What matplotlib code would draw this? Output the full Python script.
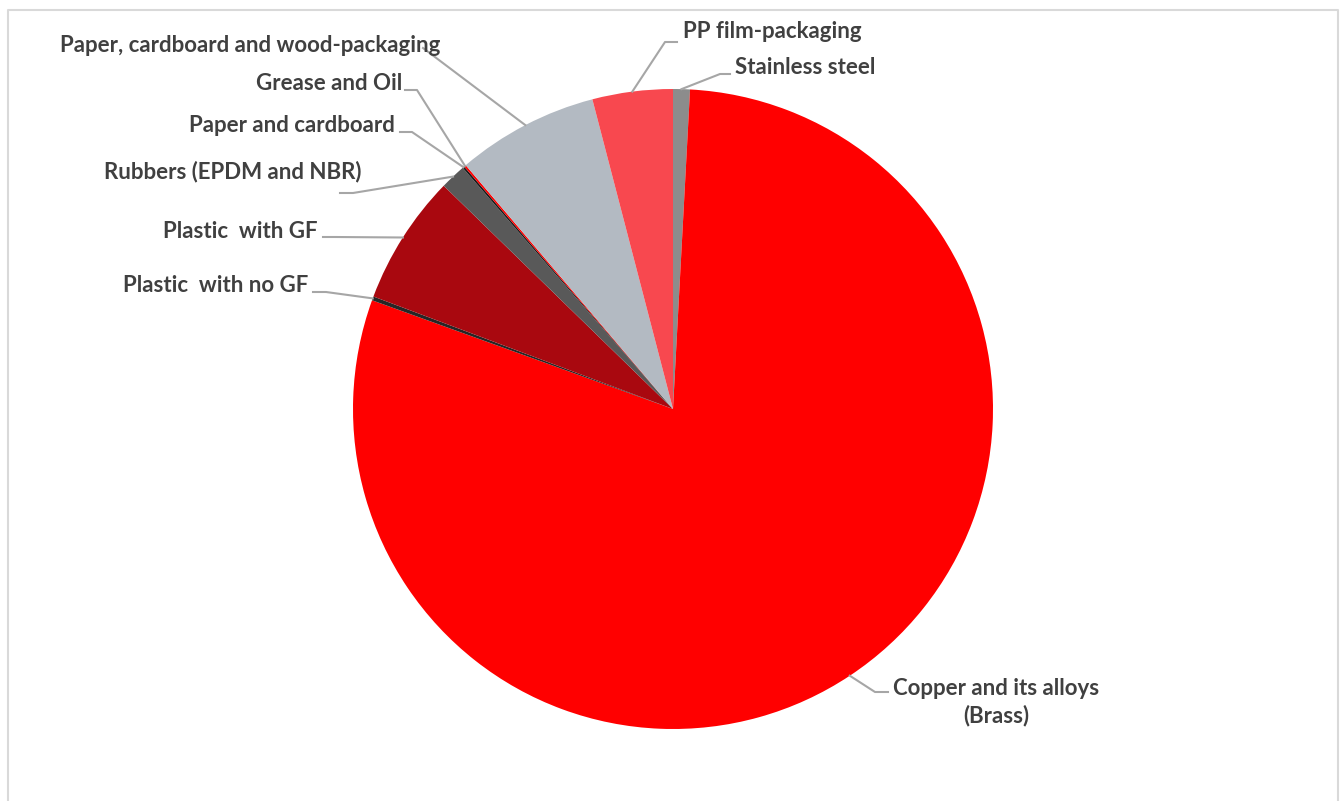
import numpy as np
import matplotlib.pyplot as plt

# materials, in the order the pie is drawn (clockwise from 12 o'clock)
materials = ["Stainless steel", "Copper and its alloys\n(Brass)", "Plastic  with no GF",
             "Plastic  with GF", "Rubbers (EPDM and NBR)", "Paper and cardboard",
             "Grease and Oil", "Paper, cardboard and wood-packaging", "PP film-packaging"]
shares = [0.85, 79.78, 0.2, 6.58, 1.3, 0.1, 0.1, 7.17, 4.06]  # % of mass
colors = ["#8C8C8C", "#FF0000", "#262626", "#A9080F", "#595959",
          "#1A1A1A", "#FF0000", "#B3BAC2", "#F8484F"]

W, H = 1341, 801
Y = lambda y: H - y  # pixel rows -> axes units

cx, cy, R = 673, 409, 320

fig = plt.figure(figsize=(W / 100, H / 100), dpi=100)
ax = fig.add_axes([0, 0, 1, 1])

# frame of the chart area
bc = "#D9D9D9"
ax.plot([8, 8, 1338, 1338], [0, Y(10), Y(10), 0], color=bc, lw=1.5)

wedges, _ = ax.pie(shares, colors=colors, startangle=90, counterclock=False,
                   center=(cx, Y(cy)), radius=R, frame=True,
                   wedgeprops=dict(linewidth=0))
ax.set_xlim(0, W)
ax.set_ylim(0, H)
ax.set_aspect("equal")
ax.axis("off")

# label layout: text anchor (x, y, ha), elbow and line end at the text
labels = {
    0: dict(xy=(735, 68), ha="left", elbow=(720, 74), end=(730, 74)),
    1: dict(xy=(996, 702), ha="center", elbow=(875, 692), end=(888, 692)),
    2: dict(xy=(308, 285), ha="right", elbow=(326, 292), end=(313, 292)),
    3: dict(xy=(318, 232), ha="right", elbow=(335, 237), end=(323, 237)),
    4: dict(xy=(362, 172), ha="right", elbow=(353, 193), end=(340, 193)),
    5: dict(xy=(395, 125), ha="right", elbow=(412, 132), end=(400, 132)),
    6: dict(xy=(402, 83), ha="right", elbow=(417, 90), end=(405, 90)),
    7: dict(xy=(440, 45), ha="right", elbow=(423, 48), end=(423, 48)),
    8: dict(xy=(683, 31), ha="left", elbow=(665, 42), end=(677, 42)),
}

tc = "#404040"
lc = "#A6A6A6"
for i, w in enumerate(wedges):
    mid = np.deg2rad((w.theta1 + w.theta2) / 2)
    px, py = cx + R * np.cos(mid), Y(cy) + R * np.sin(mid)
    lab = labels[i]
    ex, ey = lab["elbow"]
    fx, fy = lab["end"]
    ax.plot([px, ex, fx], [py, Y(ey), Y(fy)], color=lc, lw=1.5, zorder=1)
    ax.text(lab["xy"][0], Y(lab["xy"][1]), materials[i], ha=lab["ha"], va="center",
            fontsize=16, fontweight="bold", family=["Lato", "DejaVu Sans"],
            color=tc, linespacing=1.3)

fig.savefig("out.png", dpi=100)
